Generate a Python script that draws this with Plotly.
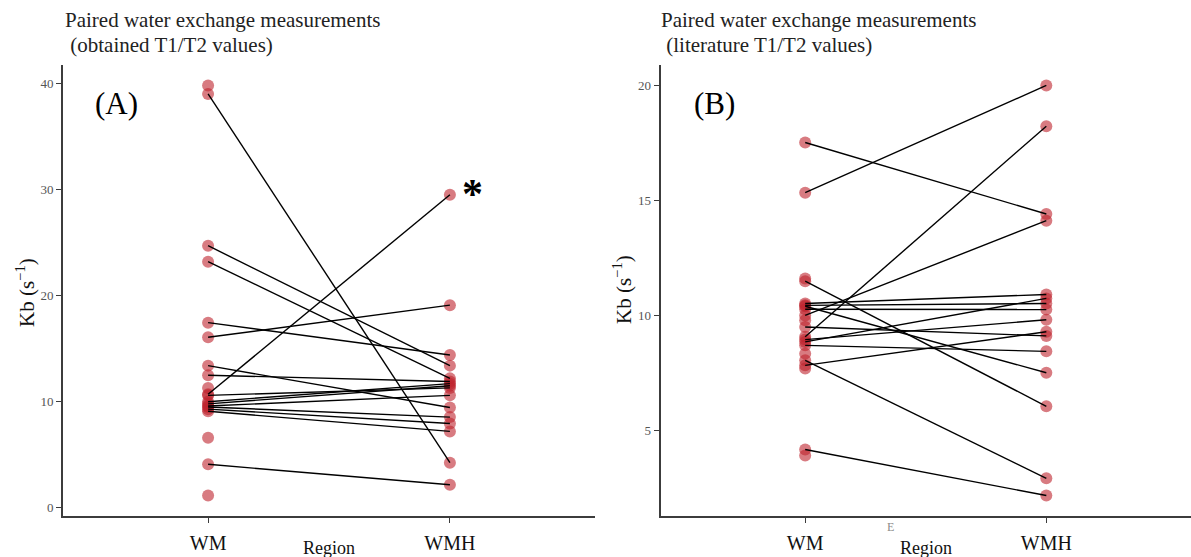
import plotly.graph_objects as go

# ---- data -------------------------------------------------------------
regions = ["WM", "WMH"]

# Panel A: obtained T1/T2 values, Kb (s^-1)
wm_a_paired = [39.0, 24.7, 23.2, 17.45, 16.07, 13.4, 12.5, 10.7, 10.6, 10.0, 9.8, 9.6, 9.5, 9.3, 9.1, 4.1]
wmh_a_paired = [4.25, 13.4, 12.2, 14.4, 19.1, 9.45, 11.9, 29.5, 11.3, 11.7, 11.5, 10.6, 8.55, 7.95, 7.2, 2.17]
wm_a_single = [39.8, 11.3, 6.6, 1.16]

# Panel B: literature T1/T2 values, Kb (s^-1)
wm_b_paired = [17.52, 15.34, 11.49, 10.52, 10.44, 10.27, 10.4, 10.0, 9.5, 9.07, 8.85, 8.95, 8.70, 7.83, 8.05, 4.17]
wmh_b_paired = [14.41, 20.0, 6.05, 10.91, 10.52, 10.26, 7.51, 14.12, 9.11, 18.23, 10.74, 9.81, 8.44, 9.29, 2.92, 2.17]
wm_b_single = [11.61, 9.79, 8.34, 7.69, 3.91]

y_ticks_a = [0, 10, 20, 30, 40]
y_ticks_b = [5, 10, 15, 20]

# ---- styling ----------------------------------------------------------
W, H = 1191, 557
SERIF = "Liberation Serif"
POINT = "rgba(190,35,45,0.6)"
AXIS = "#3c3c3c"


def px_x(p):
    return p / W


def px_y(p):
    return 1 - p / H


fig = go.Figure()


def add_panel(wm_p, wmh_p, wm_s, xref, yref):
    # points first, connecting segments drawn on top
    xs = [regions[0]] * (len(wm_p) + len(wm_s)) + [regions[1]] * len(wmh_p)
    ys = list(wm_p) + list(wm_s) + list(wmh_p)
    fig.add_trace(go.Scatter(
        x=xs, y=ys, mode="markers", xaxis=xref, yaxis=yref,
        marker=dict(size=12, color=POINT, line=dict(width=0)),
        showlegend=False, hoverinfo="y"))
    lx, ly = [], []
    for a, b in zip(wm_p, wmh_p):
        lx += [regions[0], regions[1], None]
        ly += [a, b, None]
    fig.add_trace(go.Scatter(
        x=lx, y=ly, mode="lines", xaxis=xref, yaxis=yref,
        line=dict(color="black", width=1.4),
        showlegend=False, hoverinfo="skip"))


add_panel(wm_a_paired, wmh_a_paired, wm_a_single, "x", "y")
add_panel(wm_b_paired, wmh_b_paired, wm_b_single, "x2", "y2")

y_dom = [px_y(516), px_y(65)]

xaxis_common = dict(
    type="category", categoryorder="array", categoryarray=regions,
    range=[-0.6, 1.6], showline=True, linecolor=AXIS, linewidth=2,
    ticks="outside", ticklen=5, tickwidth=1, tickcolor=AXIS,
    tickfont=dict(family=SERIF, size=20, color="#111"),
    ticklabelstandoff=3,
    showgrid=False, zeroline=False, fixedrange=True)

yaxis_common = dict(
    showline=True, linecolor=AXIS, linewidth=2,
    ticks="outside", ticklen=5, tickwidth=1, tickcolor=AXIS,
    tickfont=dict(family=SERIF, size=13, color="#555"),
    showgrid=False, zeroline=False, fixedrange=True)

fig.update_layout(
    width=W, height=H,
    margin=dict(l=0, r=0, t=0, b=0),
    paper_bgcolor="white", plot_bgcolor="white",
    xaxis=dict(domain=[px_x(63), px_x(595)], anchor="y", **xaxis_common),
    xaxis2=dict(domain=[px_x(660.5), 1.0], anchor="y2", **xaxis_common),
    yaxis=dict(domain=y_dom, anchor="x", range=[-0.77, 41.73],
               tickvals=y_ticks_a, **yaxis_common),
    yaxis2=dict(domain=y_dom, anchor="x2", range=[1.28, 20.89],
                tickvals=y_ticks_b, **yaxis_common),
)

title_font = dict(family=SERIF, size=21, color="#222")
annotations = [
    # panel titles (two lines each)
    dict(text="Paired water exchange measurements", x=px_x(63), y=px_y(20),
         xanchor="left", yanchor="middle", font=title_font),
    dict(text=" (obtained T1/T2 values)", x=px_x(63), y=px_y(45),
         xanchor="left", yanchor="middle", font=title_font),
    dict(text="Paired water exchange measurements", x=px_x(659), y=px_y(20),
         xanchor="left", yanchor="middle", font=title_font),
    dict(text=" (literature T1/T2 values)", x=px_x(659), y=px_y(45),
         xanchor="left", yanchor="middle", font=title_font),
    # y-axis titles
    dict(text="Kb (s<sup>−1</sup>)", x=px_x(25), y=px_y(293), textangle=-90,
         xanchor="center", yanchor="middle",
         font=dict(family=SERIF, size=21, color="#111")),
    dict(text="Kb (s<sup>−1</sup>)", x=px_x(622), y=px_y(290), textangle=-90,
         xanchor="center", yanchor="middle",
         font=dict(family=SERIF, size=21, color="#111")),
    # x-axis titles
    dict(text="Region", x=px_x(329), y=px_y(548), xanchor="center", yanchor="middle",
         font=dict(family=SERIF, size=18, color="#111")),
    dict(text="Region", x=px_x(926), y=px_y(548), xanchor="center", yanchor="middle",
         font=dict(family=SERIF, size=18, color="#111")),
    dict(text="E", x=px_x(890), y=px_y(527), xanchor="center", yanchor="middle",
         font=dict(family=SERIF, size=12, color="#8a8a8a")),
    # panel letters
    dict(text="(A)", x=px_x(116), y=px_y(104), xanchor="center", yanchor="middle",
         font=dict(family=SERIF, size=31, color="black")),
    dict(text="(B)", x=px_x(714), y=px_y(104), xanchor="center", yanchor="middle",
         font=dict(family=SERIF, size=31, color="black")),
    # significance marker
    dict(text="<b>*</b>", x=px_x(472), y=px_y(194), xanchor="center", yanchor="middle",
         font=dict(family=SERIF, size=42, color="black")),
]
for a in annotations:
    a.setdefault("xref", "paper")
    a.setdefault("yref", "paper")
    a.setdefault("showarrow", False)
fig.update_layout(annotations=annotations)

fig.write_html("out.html")
